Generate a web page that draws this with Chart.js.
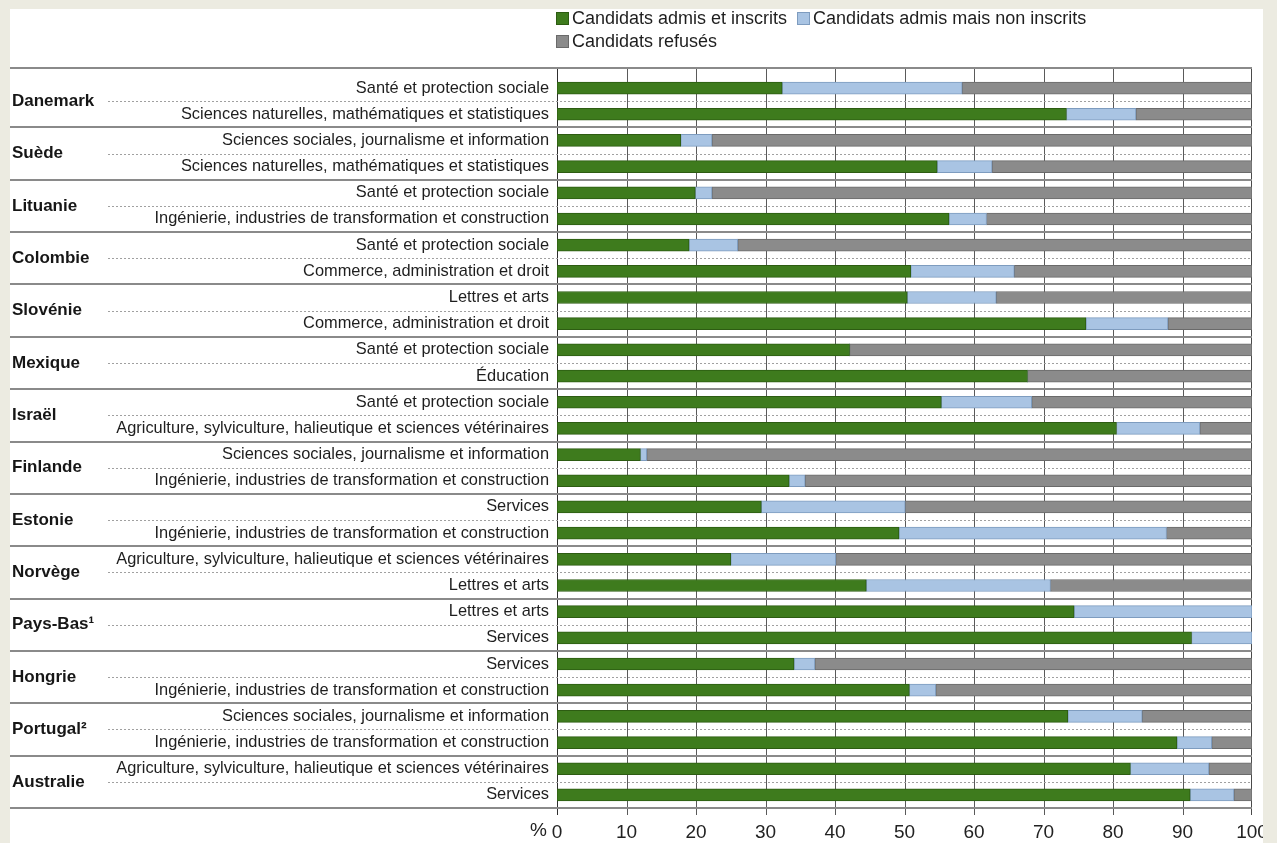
<!DOCTYPE html>
<html lang="fr">
<head>
<meta charset="utf-8">
<title>Candidats admis et refusés par domaine d'études</title>
<script src="https://cdn.jsdelivr.net/npm/chart.js@4.4.1/dist/chart.umd.min.js"></script>
<style>
  html, body { margin: 0; padding: 0; }
  body {
    width: 1277px; height: 843px; overflow: hidden;
    background: #ecebe1;
    font-family: "Liberation Sans", Arial, sans-serif;
  }
  /* panneau blanc, le bord droit coupe le « 100 » comme sur la figure d'origine */
  #panel { position: absolute; left: 10px; top: 9px; width: 1253px; height: 834px; background: #fff; overflow: hidden; }
  #wrap { position: absolute; left: -10px; top: -9px; width: 1277px; height: 843px; }
  #legend { position: absolute; left: 556px; top: 7px; font-size: 18px; color: #1e1e1e; }
  .row { display: flex; height: 23px; align-items: center; }
  .item { display: flex; align-items: center; margin-right: 10px; }
  .box { width: 13px; height: 13px; margin-right: 3px; box-sizing: border-box; border: 1px solid; }
</style>
</head>
<body>
<div id="panel">
  <div id="wrap">
    <canvas id="graphique" width="1277" height="843"></canvas>
    <div id="legend"></div>
  </div>
</div>
<script>
// Pays (deux domaines d'études par pays, dans l'ordre des barres)
const pays = [
  "Danemark", "Suède", "Lituanie", "Colombie", "Slovénie", "Mexique", "Israël",
  "Finlande", "Estonie", "Norvège", "Pays-Bas¹", "Hongrie", "Portugal²", "Australie"
];

const domaines = [
  "Santé et protection sociale",
  "Sciences naturelles, mathématiques et statistiques",
  "Sciences sociales, journalisme et information",
  "Sciences naturelles, mathématiques et statistiques",
  "Santé et protection sociale",
  "Ingénierie, industries de transformation et construction",
  "Santé et protection sociale",
  "Commerce, administration et droit",
  "Lettres et arts",
  "Commerce, administration et droit",
  "Santé et protection sociale",
  "Éducation",
  "Santé et protection sociale",
  "Agriculture, sylviculture, halieutique et sciences vétérinaires",
  "Sciences sociales, journalisme et information",
  "Ingénierie, industries de transformation et construction",
  "Services",
  "Ingénierie, industries de transformation et construction",
  "Agriculture, sylviculture, halieutique et sciences vétérinaires",
  "Lettres et arts",
  "Lettres et arts",
  "Services",
  "Services",
  "Ingénierie, industries de transformation et construction",
  "Sciences sociales, journalisme et information",
  "Ingénierie, industries de transformation et construction",
  "Agriculture, sylviculture, halieutique et sciences vétérinaires",
  "Services"
];

const series = [
  "Candidats admis et inscrits",
  "Candidats admis mais non inscrits",
  "Candidats refusés"
];

// en %
const admisInscrits = [
  32.4, 73.3, 17.8, 54.7, 19.9, 56.4, 19.0, 50.9, 50.4, 76.1, 42.1, 67.7, 55.3, 80.5,
  12.0, 33.4, 29.4, 49.2, 25.0, 44.5, 74.4, 91.3, 34.1, 50.7, 73.5, 89.2, 82.5, 91.1
];
const admisNonInscrits = [
  25.9, 10.0, 4.5, 7.9, 2.4, 5.4, 7.0, 14.9, 12.8, 11.8, 0, 0, 13.0, 12.0,
  0.9, 2.3, 20.7, 38.5, 15.1, 26.5, 25.6, 8.7, 3.0, 3.8, 10.7, 5.0, 11.3, 6.3
];
const refuses = [
  41.7, 16.7, 77.7, 37.4, 77.7, 38.2, 74.0, 34.2, 36.8, 12.1, 57.9, 32.3, 31.7, 7.5,
  87.1, 64.3, 49.9, 12.3, 59.9, 29.0, 0, 0, 62.9, 45.5, 15.8, 5.8, 6.2, 2.6
];

const couleurs = ["#3e7b1d", "#a9c4e3", "#8b8b8b"];
const bordures = ["#2d5c12", "#7e9cbf", "#6a6a6a"];
const valeurs = [admisInscrits, admisNonInscrits, refuses];

const police = "'Liberation Sans', Arial, sans-serif";

// légende en HTML : deux éléments sur la première ligne, le troisième en dessous
const legende = document.getElementById("legend");
[[0, 1], [2]].forEach((ligne) => {
  const row = document.createElement("div");
  row.className = "row";
  ligne.forEach((i) => {
    const item = document.createElement("div");
    item.className = "item";
    item.innerHTML =
      `<span class="box" style="background:${couleurs[i]};border-color:${bordures[i]}"></span>` +
      `<span>${series[i]}</span>`;
    row.appendChild(item);
  });
  legende.appendChild(row);
});

// Quadrillage, filets de séparation des pays et libellés des pays
const cadre = {
  id: "cadre",
  beforeDatasetsDraw(chart) {
    const { ctx, chartArea: a, scales: { x, y } } = chart;
    const haut = a.top - 7;
    const bas = a.bottom;
    const trait = (x1, y1, x2, y2) => {
      ctx.beginPath();
      ctx.moveTo(x1, y1);
      ctx.lineTo(x2, y2);
      ctx.stroke();
    };
    ctx.save();

    // verticales tous les 10 %
    ctx.lineWidth = 1;
    ctx.strokeStyle = "#5a5a5a";
    for (let v = 10; v < 100; v += 10) {
      const px = Math.round(x.getPixelForValue(v)) + 0.5;
      trait(px, haut, px, bas + 7);
    }
    ctx.strokeStyle = "#2e2e2e";
    const x0 = Math.round(x.getPixelForValue(0)) + 0.5;
    trait(x0, haut, x0, bas + 7);
    ctx.strokeStyle = "#4a4a4a";
    const x100 = Math.round(x.getPixelForValue(100)) - 0.5;
    trait(x100, haut, x100, bas + 7);

    // pointillés entre les deux domaines d'un même pays
    ctx.strokeStyle = "#a0a0a0";
    ctx.setLineDash([2, 2]);
    pays.forEach((p, g) => {
      const yy = Math.round((y.getPixelForValue(2 * g) + y.getPixelForValue(2 * g + 1)) / 2) + 0.5;
      trait(108, yy, a.right, yy);
    });
    ctx.setLineDash([]);

    // filets pleins entre pays, en haut et en bas
    ctx.lineWidth = 2;
    ctx.strokeStyle = "#8a8a8a";
    trait(10, haut, a.right, haut);
    for (let g = 1; g < pays.length; g++) {
      const yy = Math.round((y.getPixelForValue(2 * g - 1) + y.getPixelForValue(2 * g)) / 2);
      trait(10, yy, a.right, yy);
    }
    trait(10, bas, a.right, bas);
    ctx.restore();
  },
  afterDraw(chart) {
    const { ctx, chartArea: a, scales: { y } } = chart;
    ctx.save();
    ctx.fillStyle = "#161616";
    ctx.font = `bold 17px ${police}`;
    ctx.textBaseline = "middle";
    pays.forEach((p, g) => {
      const yy = (y.getPixelForValue(2 * g) + y.getPixelForValue(2 * g + 1)) / 2;
      ctx.fillText(p, 12, yy);
    });
    // unité devant le premier repère de l'axe
    ctx.font = `19px ${police}`;
    ctx.fillStyle = "#222";
    ctx.textAlign = "right";
    ctx.textBaseline = "top";
    ctx.fillText("%", a.left - 10, a.bottom + 13);
    ctx.restore();
  }
};

new Chart(document.getElementById("graphique"), {
  type: "bar",
  data: {
    labels: domaines,
    datasets: series.map((nom, i) => ({
      label: nom,
      data: valeurs[i],
      backgroundColor: couleurs[i],
      borderColor: bordures[i],
      borderWidth: (c) => (c.raw ? 1 : 0),
      borderSkipped: false,
      barThickness: 12,
    })),
  },
  options: {
    indexAxis: "y",
    responsive: false,
    animation: false,
    layout: { padding: { top: 75, right: 25, bottom: 0, left: 0 } },
    plugins: {
      legend: { display: false },
      tooltip: { enabled: false },
    },
    scales: {
      x: {
        stacked: true,
        min: 0,
        max: 100,
        grid: { display: false, drawTicks: false },
        border: { display: false },
        ticks: {
          stepSize: 10,
          padding: 13,
          color: "#222",
          font: { family: police, size: 19 },
        },
        // le « 100 » peut déborder à droite : pas de marge supplémentaire
        afterFit: (s) => {
          s.height = 35;
          s.paddingLeft = 0;
          s.paddingRight = 0;
        },
      },
      y: {
        stacked: true,
        grid: { display: false, drawTicks: false },
        border: { display: false },
        ticks: {
          autoSkip: false,
          padding: 8,
          color: "#1e1e1e",
          font: { family: police, size: 16.4 },
        },
        afterFit: (s) => { s.width = 557; },
      },
    },
  },
  plugins: [cadre],
});
</script>
</body>
</html>
